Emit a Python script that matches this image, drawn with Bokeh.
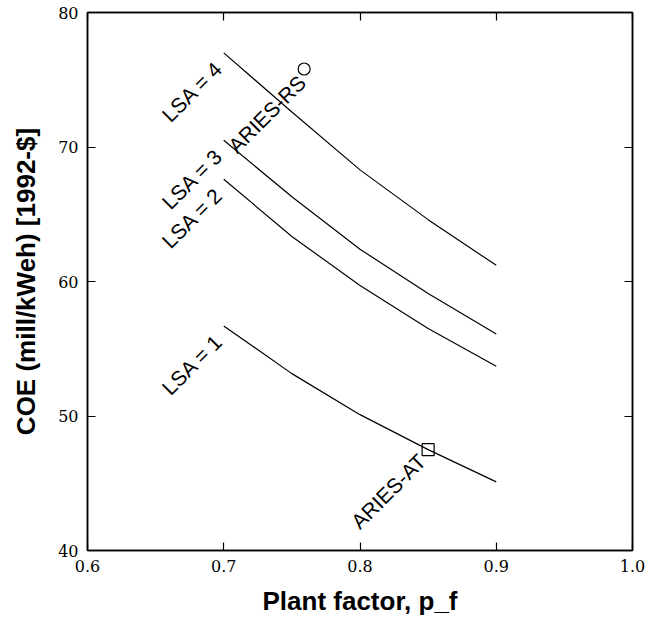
import math
from bokeh.plotting import figure
from bokeh.models import Range1d, LinearAxis, FixedTicker, ColumnDataSource
from bokeh.core.properties import value
from bokeh.embed import file_html
from bokeh.resources import INLINE

# ---- data ----
pf = [0.70, 0.75, 0.80, 0.85, 0.90]
coe_lsa1 = [56.7, 53.15, 50.1, 47.5, 45.1]
coe_lsa2 = [67.6, 63.35, 59.7, 56.5, 53.7]
coe_lsa3 = [70.5, 66.3, 62.4, 59.1, 56.1]
coe_lsa4 = [77.0, 72.6, 68.3, 64.6, 61.2]
curve_names = ["LSA = 1", "LSA = 2", "LSA = 3", "LSA = 4"]

design_names = ["ARIES-RS", "ARIES-AT"]
design_pf = [0.759, 0.850]
design_coe = [75.8, 47.5]
design_markers = ["circle", "square"]

x_ticks = [0.6, 0.7, 0.8, 0.9, 1.0]
x_tick_labels = ["0.6", "0.7", "0.8", "0.9", "1.0"]
y_ticks = [40, 50, 60, 70, 80]
y_tick_labels = ["40", "50", "60", "70", "80"]

x_label = "Plant factor, p_f"
y_label = "COE (mill/kWeh) [1992-$]"

# ---- figure ----
p = figure(width=671, height=618, output_backend="svg", toolbar_location=None,
           x_range=Range1d(0.6, 1.0), y_range=Range1d(40, 80),
           x_axis_location=None, y_axis_location=None,
           min_border_left=87, min_border_right=39, min_border_top=12, min_border_bottom=68)
p.background_fill_color = "white"
p.border_fill_color = "white"
p.outline_line_color = "black"
p.outline_line_width = 1.5
p.xgrid.visible = False
p.ygrid.visible = False

label_font = value("Liberation Sans")

def make_axis(ticks, labels, show_labels):
    ax = LinearAxis(ticker=FixedTicker(ticks=ticks),
                    major_label_overrides={t: l for t, l in zip(ticks, labels)})
    ax.major_tick_in = 8
    ax.major_tick_out = 0
    ax.minor_tick_line_color = None
    ax.axis_line_color = "black"
    ax.axis_line_width = 1.5
    ax.major_tick_line_color = "black"
    ax.major_tick_line_width = 1.2
    if show_labels:
        ax.major_label_text_font = "DejaVu Serif"
        ax.major_label_text_font_size = "16px"
        ax.major_label_text_color = "black"
        ax.major_label_standoff = 9
    else:
        ax.major_label_text_font_size = "1px"
        ax.major_label_text_color = None
        ax.major_label_standoff = 0
    return ax

xb = make_axis(x_ticks, x_tick_labels, True)
xb.axis_label = x_label
xb.axis_label_text_font = "Liberation Sans"
xb.axis_label_text_font_style = "bold"
xb.axis_label_text_font_size = "26px"
xb.axis_label_text_color = "black"
xb.axis_label_standoff = 11
p.add_layout(xb, "below")

yl = make_axis(y_ticks, y_tick_labels, True)
yl.axis_label = y_label
yl.axis_label_text_font = "Liberation Sans"
yl.axis_label_text_font_style = "bold"
yl.axis_label_text_font_size = "26px"
yl.axis_label_text_color = "black"
yl.axis_label_standoff = 14
p.add_layout(yl, "left")

xt = make_axis(x_ticks, x_tick_labels, False)
p.add_layout(xt, "above")
yr = make_axis(y_ticks, y_tick_labels, False)
p.add_layout(yr, "right")

# ---- curves ----
curves = [coe_lsa1, coe_lsa2, coe_lsa3, coe_lsa4]
for ys in curves:
    p.line(pf, ys, line_color="black", line_width=1.2)

lab_src = ColumnDataSource(dict(x=[pf[0]] * len(curves),
                                y=[c[0] for c in curves],
                                t=curve_names))
p.text(x="x", y="y", text="t", source=lab_src, angle=math.pi / 4,
       text_align="right", text_baseline="alphabetic",
       x_offset=-5, y_offset=12,
       text_font=label_font, text_font_size="21px", text_color="black")

# ---- design points ----
p.scatter([design_pf[0]], [design_coe[0]], marker=design_markers[0], size=12,
          fill_color="white", line_color="black", line_width=1.2)
p.scatter([design_pf[1]], [design_coe[1]], marker=design_markers[1], size=12,
          fill_color=None, line_color="black", line_width=1.2)

p.text(x=[design_pf[0]], y=[design_coe[0]], text=[design_names[0]], angle=math.pi / 4,
       text_align="right", text_baseline="alphabetic", x_offset=-2, y_offset=10,
       text_font=label_font, text_font_size="21px", text_color="black")
p.text(x=[design_pf[1]], y=[design_coe[1]], text=[design_names[1]], angle=math.pi / 4,
       text_align="right", text_baseline="alphabetic", x_offset=-6, y_offset=8,
       text_font=label_font, text_font_size="21px", text_color="black")

open("out.html", "w").write(file_html(p, INLINE))
